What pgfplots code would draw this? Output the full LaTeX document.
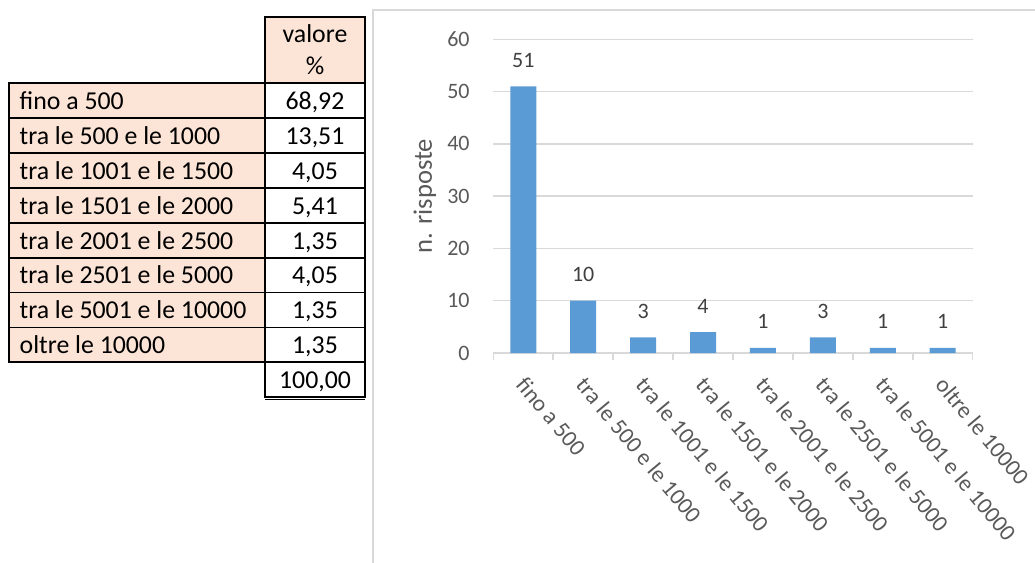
\documentclass[border=0pt]{standalone}
\usepackage{fontspec}
\setmainfont{Carlito}
\usepackage{pgfplots}
\pgfplotsset{compat=1.18}
\usepackage{pgfplotstable}

\definecolor{barblue}{HTML}{5B9BD5}
\definecolor{gridgray}{HTML}{D9D9D9}
\definecolor{ticktext}{HTML}{595959}
\definecolor{labeltext}{HTML}{404040}
\definecolor{peach}{HTML}{FCE4D6}

% number of answers per income band
\pgfplotstableread{
idx risposte
0 51
1 10
2 3
3 4
4 1
5 3
6 1
7 1
}\risposte

\begin{document}
\begin{tikzpicture}

% summary table and chart frame, top-down coordinates in half points
\begin{scope}[shift={(0pt,281.5pt)},x=0.5pt,y=-0.5pt,font=\fontsize{12.9}{15}\selectfont]
  \draw[gridgray,line width=1pt] (373,10) rectangle (1045,575);
  \filldraw[fill=peach,draw=black,line width=0.9pt] (265,16.7) rectangle (365,83.3);
  \node[anchor=base,inner sep=0pt] at (315,42.3) {valore};
  \node[anchor=base,inner sep=0pt] at (315,75) {\%};
  \foreach \lab/\val [count=\i from 0] in {
      fino a 500/{68,92},
      tra le 500 e le 1000/{13,51},
      tra le 1001 e le 1500/{4,05},
      tra le 1501 e le 2000/{5,41},
      tra le 2001 e le 2500/{1,35},
      tra le 2501 e le 5000/{4,05},
      tra le 5001 e le 10000/{1,35},
      oltre le 10000/{1,35}}{
    \pgfmathsetmacro\rowtop{83.3+34.875*\i}
    \filldraw[fill=peach,draw=black,line width=0.9pt] (9.3,\rowtop) rectangle (265,\rowtop+34.875);
    \draw[black,line width=0.9pt] (265,\rowtop) rectangle (365,\rowtop+34.875);
    \node[anchor=base west,inner sep=0pt] at (19.3,\rowtop+26.3) {\lab};
    \node[anchor=base,inner sep=0pt] at (315,\rowtop+26.3) {\val};
  }
  \draw[black,line width=0.9pt] (265,362.3) rectangle (365,396.7);
  \draw[black,line width=0.6pt] (265,399.6) -- (365,399.6);
  \node[anchor=base,inner sep=0pt] at (315,388.5) {100,00};
\end{scope}

\begin{axis}[
  at={(246.65pt,105pt)}, anchor=south west,
  scale only axis, width=239.7pt, height=156.85pt,
  xmin=-0.5, xmax=7.5, ymin=0, ymax=60,
  clip=false,
  /pgf/number format/assume math mode=true,
  ybar, bar width=13pt,
  xtick={0,...,7},
  xticklabels={fino a 500, tra le 500 e le 1000, tra le 1001 e le 1500,
    tra le 1501 e le 2000, tra le 2001 e le 2500, tra le 2501 e le 5000,
    tra le 5001 e le 10000, oltre le 10000},
  minor xtick={-0.5,0.5,...,7.5},
  ytick={0,10,...,60},
  major tick length=0pt,
  minor tick length=3.5pt,
  tick align=outside,
  tick pos=left,
  minor tick style={gridgray,line width=0.75pt},
  ymajorgrids,
  major grid style={gridgray,line width=0.75pt},
  axis x line*=bottom, axis y line*=left,
  y axis line style={draw=none},
  x axis line style={gridgray,line width=0.75pt},
  tick label style={font=\fontsize{11}{13}\selectfont,text=ticktext},
  yticklabel style={anchor=east,inner sep=0pt,xshift=-11.65pt},
  xticklabel style={font=\fontsize{11.6}{13}\selectfont,
    xshift=2pt,yshift=-11pt,rotate=-50,anchor=north west,inner sep=0pt},
  ylabel={n. risposte},
  ylabel style={at={(axis description cs:-0.1425,0.5)},anchor=center,
    font=\fontsize{13.3}{15}\selectfont,text=ticktext},
  nodes near coords,
  every node near coord/.append style={font=\fontsize{11}{13}\selectfont,
    text=labeltext,anchor=center,yshift=13pt},
]
\addplot[fill=barblue,draw=none] table[x=idx,y=risposte]{\risposte};
\end{axis}

% page area
\pgfresetboundingbox
\useasboundingbox (0pt,0pt) rectangle (517.5pt,281.5pt);
\end{tikzpicture}
\end{document}
